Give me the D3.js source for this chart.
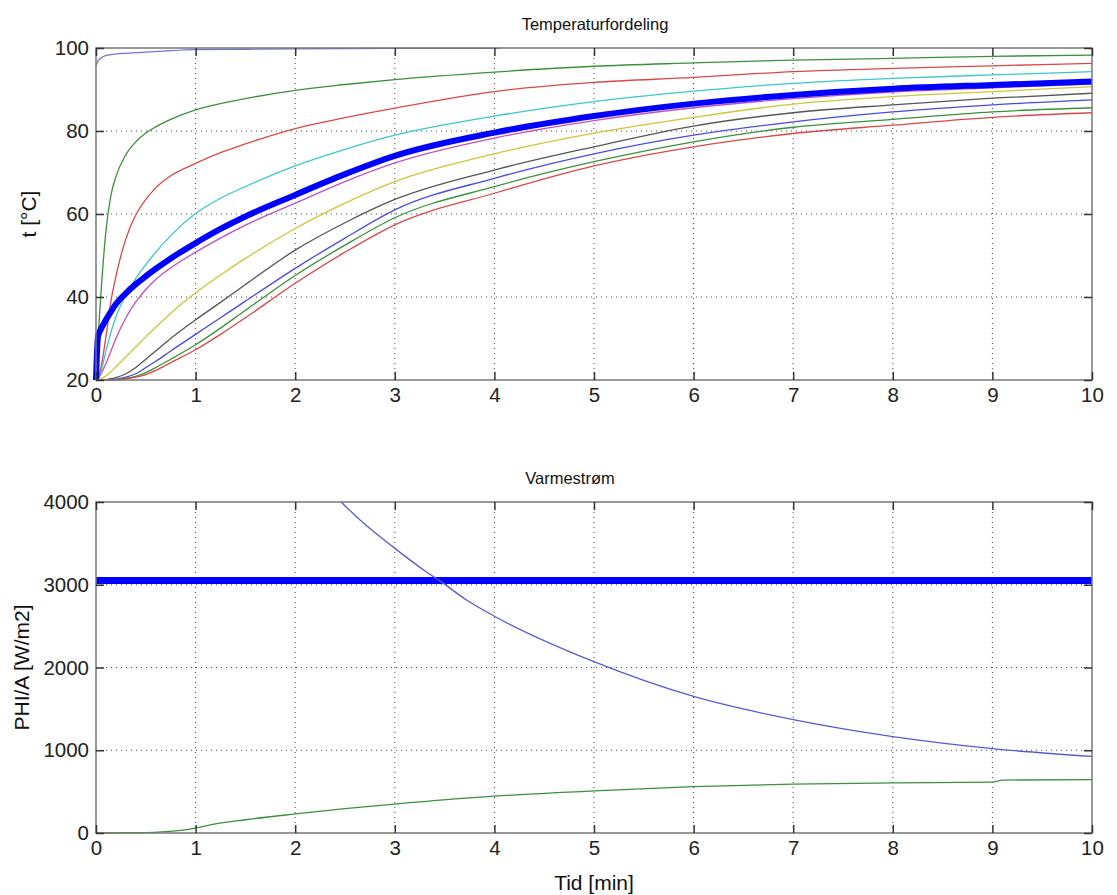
<!DOCTYPE html>
<html>
<head>
<meta charset="utf-8">
<script src="https://cdn.jsdelivr.net/npm/d3@7"></script>
<style>
    body { margin: 0; background: #fff; }
    svg { display: block; font-family: "Liberation Sans", Arial, sans-serif; }
    .grid line { stroke: #444; stroke-width: 1; stroke-dasharray: 1 4; }
    .tick-label { font-size: 20.5px; fill: #222; }
    .title { font-size: 16.5px; fill: #111; }
    .axis-label { font-size: 21px; fill: #111; }
</style>
</head>
<body>
<svg id="chart" width="1117" height="895"></svg>
<script>
// time grid [min] shared by the temperature curves
const tid = [0, 0.02, 0.05, 0.1, 0.15, 0.2, 0.3, 0.4, 0.5, 0.6, 0.75, 1, 1.25, 1.5, 2, 2.5, 3, 4, 5, 6, 7, 8, 9, 10];

// surface node, only drawn up to ~4 min
const tidSurface = [0, 0.02, 0.07, 0.15, 0.27, 0.5, 0.71, 1, 1.5, 2, 3, 4.05];
const tempSurface = [95.8, 96.9, 97.9, 98.4, 98.7, 99.0, 99.3, 99.6, 99.7, 99.8, 99.9, 99.9];

// inner nodes, top to bottom
const tempNode2 = [20, 29.6, 41, 56, 64.5, 69, 74.3, 77.4, 79.5, 81, 82.8, 85.1, 86.6, 87.8, 89.8, 91.2, 92.4, 94.2, 95.6, 96.4, 97.1, 97.5, 98.0, 98.3];
const tempNode3 = [20, 20.5, 23, 30.5, 39, 45, 54, 59.8, 63.5, 66.3, 69.2, 72.2, 74.8, 76.9, 80.6, 83.2, 85.5, 89.5, 91.7, 92.9, 94.3, 95.1, 95.7, 96.3];
const tempNode4 = [20, 20.2, 22, 27, 31.5, 35.2, 40.5, 44.5, 47.8, 50.8, 54.8, 60.1, 63.8, 66.6, 71.6, 75.6, 79, 83.6, 87.1, 89.6, 91.5, 92.7, 93.5, 94.3];
const tempNode5 = [20, 20.3, 21.5, 24, 27, 30, 35, 38.8, 41.8, 44.2, 47, 50.8, 54.2, 57.3, 62.6, 67.8, 72.3, 78.3, 82.5, 85.6, 87.8, 89.4, 90.4, 91.3];
const tempNode6 = [20, 20, 20.3, 21, 22, 23.2, 25.6, 28, 30.4, 32.7, 36.1, 41, 45.3, 49.3, 56.5, 62.6, 67.8, 74.5, 79.5, 83.3, 86.5, 88.3, 89.5, 90.7];
const tempNode7 = [20, 20, 20, 20.1, 20.3, 20.6, 21.5, 23, 25, 27, 30, 34.5, 38.7, 43, 51.3, 57.9, 63.5, 70.6, 76.2, 81.2, 84.4, 86.3, 87.9, 89.1];
const tempNode8 = [20, 20, 20, 20, 20.1, 20.2, 20.7, 21.5, 23, 24.5, 27, 31, 35, 39, 46.9, 54.2, 61, 68.6, 74.5, 79, 82.2, 84.6, 86.3, 87.5];
const tempNode9 = [20, 20, 20, 20, 20, 20.1, 20.4, 20.9, 21.8, 23, 25, 28.5, 32.5, 36.8, 45.2, 52.5, 59.1, 66.6, 72.6, 77.4, 80.9, 82.8, 84.6, 85.6];
const tempNode10 = [20, 20, 20, 20, 20, 20, 20.3, 20.7, 21.3, 22.3, 24.2, 27.3, 31, 35, 43.3, 50.8, 57.4, 65, 71.6, 76.2, 79.4, 81.4, 83.3, 84.4];

// mean temperature (thick line)
const tempMean = [20, 30.5, 32.3, 34.5, 36.5, 38.3, 40.9, 43.1, 45, 46.8, 49.3, 53, 56.4, 59.4, 64.6, 69.6, 74, 79.6, 83.6, 86.6, 88.7, 90.2, 91.1, 91.9];

// heat flux
const tidConst = [0, 10];
const fluxConst = [3050, 3050];
const tidFall = [2.46, 2.7, 3, 3.3, 3.45, 3.72, 4, 5, 6, 7, 8, 9, 10];
const fluxFall = [4000, 3730, 3440, 3170, 3050, 2816, 2620, 2070, 1650, 1370, 1165, 1020, 925];
const tidRise = [0, 0.5, 0.8, 1, 1.2, 1.5, 2, 2.5, 3, 4, 5, 6, 7, 8, 9, 9.1, 10];
const fluxRise = [0, 5, 25, 60, 110, 160, 230, 295, 350, 445, 510, 560, 590, 605, 615, 640, 645];

const xTicks = [0, 1, 2, 3, 4, 5, 6, 7, 8, 9, 10],
    tempTicks = [20, 40, 60, 80, 100],
    fluxTicks = [0, 1000, 2000, 3000, 4000];

const LEFT = 96,
    RIGHT = 1092,
    TICK_LEN = 8;

const svg = d3.select("#chart");

function zip(xs, ys) {
    return xs.map((x, i) => [x, ys[i]]);
}

function drawPanel({top, bottom, yDomain, yTicks, title, titleX, ylabel, ylabelX, series}) {
    const x = d3.scaleLinear().domain([0, 10]).range([LEFT, RIGHT]),
        y = d3.scaleLinear().domain(yDomain).range([bottom, top]);

    const g = svg.append("g");

    // grid
    const grid = g.append("g").attr("class", "grid");
    grid.selectAll(".gx")
        .data(xTicks.slice(1, -1))
        .enter()
        .append("line")
        .attr("x1", (d) => x(d)).attr("x2", (d) => x(d))
        .attr("y1", top).attr("y2", bottom);
    grid.selectAll(".gy")
        .data(yTicks.slice(1, -1))
        .enter()
        .append("line")
        .attr("x1", LEFT).attr("x2", RIGHT)
        .attr("y1", (d) => y(d)).attr("y2", (d) => y(d));

    // series
    const line = d3.line()
        .x((d) => x(d[0]))
        .y((d) => y(d[1]))
        .curve(d3.curveMonotoneX);

    g.append("g")
        .selectAll("path")
        .data(series)
        .enter()
        .append("path")
        .attr("d", (d) => line(zip(d.t, d.v)))
        .attr("fill", "none")
        .attr("stroke", (d) => d.color)
        .attr("stroke-width", (d) => d.width || 1.3)
        .attr("stroke-linejoin", "round");

    // box
    g.append("rect")
        .attr("x", LEFT).attr("y", top)
        .attr("width", RIGHT - LEFT).attr("height", bottom - top)
        .attr("fill", "none")
        .attr("stroke", "#777")
        .attr("stroke-width", 1.5);

    // axes with inward ticks on all sides
    const fmt = d3.format("d"),
        axisBottom = d3.axisBottom(x).tickValues(xTicks).tickSize(-TICK_LEN).tickPadding(7).tickFormat(fmt),
        axisTop = d3.axisTop(x).tickValues(xTicks).tickSize(-TICK_LEN).tickFormat(""),
        axisLeft = d3.axisLeft(y).tickValues(yTicks).tickSize(-TICK_LEN).tickPadding(7).tickFormat(fmt),
        axisRight = d3.axisRight(y).tickValues(yTicks).tickSize(-TICK_LEN).tickFormat("");

    [[axisBottom, `translate(0,${bottom})`], [axisTop, `translate(0,${top})`],
        [axisLeft, `translate(${LEFT},0)`], [axisRight, `translate(${RIGHT},0)`]].forEach(([ax, tr]) => {
        const a = g.append("g").attr("transform", tr).call(ax);
        a.select(".domain").remove();
        a.selectAll(".tick line").attr("stroke", "#333").attr("stroke-width", 1.5);
        a.selectAll(".tick text")
            .attr("class", "tick-label")
            .attr("font-family", null)
            .attr("font-size", null);
    });

    g.append("text")
        .attr("class", "title")
        .attr("x", titleX)
        .attr("y", top - 18)
        .attr("text-anchor", "middle")
        .text(title);

    g.append("text")
        .attr("class", "axis-label")
        .attr("transform", `translate(${ylabelX},${(top + bottom) / 2}) rotate(-90)`)
        .attr("text-anchor", "middle")
        .text(ylabel);

    return g;
}

const BLUE = "#4a4ae0",
    GREEN = "#3a913a",
    RED = "#d94848",
    CYAN = "#3cc8c8",
    MAGENTA = "#c050c0",
    YELLOW = "#c8c83a",
    BLACK = "#555";

drawPanel({
    top: 48,
    bottom: 380,
    yDomain: [20, 100],
    yTicks: tempTicks,
    title: "Temperaturfordeling",
    titleX: 595,
    ylabel: "t [°C]",
    ylabelX: 36,
    series: [
        {t: tidSurface, v: tempSurface, color: "#7474d8"},
        {t: tid, v: tempNode2, color: GREEN},
        {t: tid, v: tempNode3, color: RED},
        {t: tid, v: tempNode4, color: CYAN},
        {t: tid, v: tempNode5, color: MAGENTA},
        {t: tid, v: tempNode6, color: YELLOW},
        {t: tid, v: tempNode7, color: BLACK},
        {t: tid, v: tempNode8, color: BLUE},
        {t: tid, v: tempNode9, color: GREEN},
        {t: tid, v: tempNode10, color: RED},
        {t: tid, v: tempMean, color: "#0000ff", width: 6}
    ]
});

drawPanel({
    top: 502,
    bottom: 833,
    yDomain: [0, 4000],
    yTicks: fluxTicks,
    title: "Varmestrøm",
    titleX: 570,
    ylabel: "PHI/A [W/m2]",
    ylabelX: 29,
    series: [
        {t: tidConst, v: fluxConst, color: "#0000ff", width: 7},
        {t: tidFall, v: fluxFall, color: "#5a5ad0"},
        {t: tidRise, v: fluxRise, color: GREEN}
    ]
});

svg.append("text")
    .attr("class", "axis-label")
    .attr("x", (LEFT + RIGHT) / 2)
    .attr("y", 890)
    .attr("text-anchor", "middle")
    .text("Tid [min]");
</script>
</body>
</html>
